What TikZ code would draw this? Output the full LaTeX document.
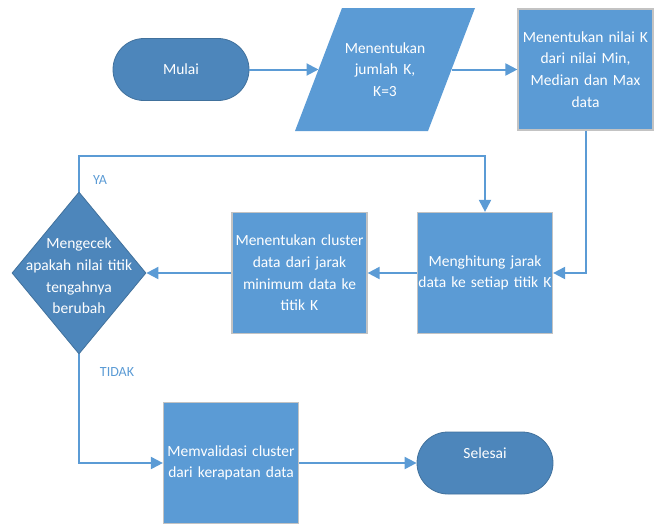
\documentclass[tikz,border=0pt]{standalone}
\usepackage{fontspec}
\setmainfont{Carlito}
\usetikzlibrary{shapes.geometric,arrows.meta}
\hyphenpenalty=10000
\exhyphenpenalty=10000
\definecolor{boxblue}{HTML}{5B9BD5}
\definecolor{darkblue}{HTML}{4D86BB}
\definecolor{edgeblue}{HTML}{41719C}
\definecolor{boxedge}{HTML}{C3C3C3}
\tikzset{
  txt/.style={text=white, font=\fontsize{15.5}{21.7}\selectfont, align=center},
  proc/.style={txt, draw=boxedge, line width=1.2pt, fill=boxblue, minimum width=135, minimum height=121, inner sep=0pt, text width=134},
  term/.style={txt, draw=edgeblue, line width=0.8pt, fill=darkblue, minimum width=136, minimum height=62, rounded corners=31, inner sep=0pt},
  decision/.style={diamond, draw=edgeblue, line width=0.8pt, fill=darkblue, minimum width=134, minimum height=162, inner sep=0pt},
  arr/.style={draw=boxblue, line width=2pt, -{Triangle[length=12pt,width=12pt]}},
  lbl/.style={text=boxblue, font=\fontsize{14}{16}\selectfont}
}
\begin{document}
\begin{tikzpicture}[x=1pt,y=-1pt]
\useasboundingbox (0,0) rectangle (661,528);
\node[term] (mulai) at (181,69.5) {Mulai};
\fill[boxblue] (342,8) -- (475,8) -- (428,131) -- (295,131) -- cycle;
\node[txt, text width=120] (input) at (385,69.5) {Menentukan\\jumlah K,\\K=3};
\coordinate (inL) at (318.5,69.5);
\coordinate (inR) at (451.5,69.5);
\node[proc] (kval) at (585.5,69.5) {Menentukan nilai K\\dari nilai Min,\\Median dan Max\\data};
\node[proc] (jarak) at (485,273) {Menghitung jarak\\data ke setiap titik K};
\node[proc] (clust) at (299.5,273) {Menentukan cluster\\data dari jarak\\minimum data ke\\titik K};
\node[decision] (dec) at (79,273) {};
\node[txt, text width=124] (dectxt) at (79,276) {Mengecek\\apakah nilai titik\\tengahnya\\berubah};
\node[proc] (valid) at (231,463) {Memvalidasi cluster\\dari kerapatan data};
\node[term] (selesai) at (485,463) {};
\node[txt] (seltxt) at (485,453) {Selesai};
\coordinate (yaturn) at (79,156);
\node[lbl] (ya) at (100,180) {YA};
\node[lbl] (tidak) at (117,372) {TIDAK};
\draw[arr] (mulai.east) -- (inL);
\draw[arr] (inR) -- (kval.west);
\draw[arr] (kval.south) |- (jarak.east);
\draw[arr] (jarak.west) -- (clust.east);
\draw[arr] (clust.west) -- (dec.east);
\draw[arr] (dec.north) -- (yaturn) -| (jarak.north);
\draw[arr] (dec.south) |- (valid.west);
\draw[arr] (valid.east) -- (selesai.west);
\end{tikzpicture}
\end{document}
